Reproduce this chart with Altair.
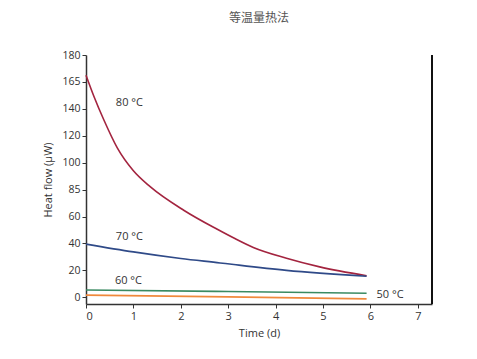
import altair as alt
import pandas as pd

# 80 °C curve
t80 = [0.0, 0.17, 0.38, 0.66, 1.0, 1.36, 2.07, 2.77, 3.12, 3.53, 4.23, 4.93, 5.92]
h80 = [165, 149, 131.5, 111, 94, 82, 64.5, 50.5, 44, 37, 29, 22.6, 16]
# 70 °C
t70 = [0.0, 1.0, 2.0, 2.83, 3.12, 4.23, 5.92]
h70 = [39.5, 33.7, 28.8, 25.5, 24.3, 20, 15.6]
# 60 °C
t60 = [0.0, 3.0, 5.92]
h60 = [5.4, 4.3, 3.0]
# 50 °C
t50 = [0.0, 3.0, 5.92]
h50 = [1.6, 0.3, -1.2]

series = ["80", "70", "60", "50"]
colors = ["#a3243f", "#2f4a88", "#3a8a62", "#f0893b"]

rows = []
for name, ts, hs in [("80", t80, h80), ("70", t70, h70), ("60", t60, h60), ("50", t50, h50)]:
    for t, h in zip(ts, hs):
        rows.append({"series": name, "t": t, "h": h})
df = pd.DataFrame(rows)

lab_text = ["80 °C", "70 °C", "60 °C", "50 °C"]
lab_t = [0.63, 0.63, 0.61, 6.13]
lab_h = [144, 45, 12, 1.5]
labels = pd.DataFrame({"text": lab_text, "t": lab_t, "h": lab_h})

x_ticks = [0, 1, 2, 3, 4, 5, 6, 7]
y_ticks = [0, 20, 40, 60, 80, 100, 120, 140, 160, 180]

font = "Open Sans"
xscale = alt.Scale(domain=[0, 7.3], nice=False, zero=False)
yscale = alt.Scale(domain=[-5, 180], nice=False, zero=False)

xaxis = alt.Axis(values=x_ticks, grid=False, domainColor="#333",
                 domainWidth=1.5, tickColor="#333", tickSize=4,
                 labelOverlap=False,
                 labelFontSize=11, titleFontSize=11, labelColor="#333",
                 titleColor="#333", labelFont=font, titleFont=font,
                 titleFontWeight="normal", titlePadding=6)
yaxis = alt.Axis(values=y_ticks, grid=False, domainColor="#333",
                 domainWidth=1.5, tickColor="#333", tickSize=4,
                 labelOverlap=False,
                 labelExpr="datum.value == 160 ? '165' : datum.value == 80 ? '85' : datum.label",
                 labelFontSize=10.5, titleFontSize=11, labelColor="#333",
                 titleColor="#333", labelFont=font, titleFont=font,
                 titleFontWeight="normal", titlePadding=8)

lines = alt.Chart(df).mark_line(strokeWidth=1.6, interpolate="monotone").encode(
    x=alt.X("t:Q", scale=xscale, title="Time (d)", axis=xaxis),
    y=alt.Y("h:Q", scale=yscale, title="Heat flow (µW)", axis=yaxis),
    color=alt.Color("series:N", scale=alt.Scale(domain=series, range=colors), legend=None),
    detail="series:N",
)

text = alt.Chart(labels).mark_text(align="left", baseline="middle", fontSize=11,
                                   font=font, color="#333").encode(
    x=alt.X("t:Q", scale=xscale, title="Time (d)", axis=xaxis),
    y=alt.Y("h:Q", scale=yscale, title="Heat flow (µW)", axis=yaxis),
    text="text:N")

border = alt.Chart(pd.DataFrame({"a": [0]})).mark_rule(color="#111", strokeWidth=2).encode(
    x=alt.value(346), y=alt.value(0), y2=alt.value(249))

chart = alt.layer(lines, text, border).properties(
    width=346, height=249,
    title=alt.TitleParams("等温量热法", fontSize=12, font="Noto Sans CJK SC",
                          color="#555", fontWeight="normal", offset=25, anchor="middle"),
    autosize=alt.AutoSizeParams(type="none"),
    padding={"left": 78, "top": 47, "right": 20, "bottom": 40},
).configure_view(stroke=None)

chart.save("out.html", embed_options={"renderer": "svg", "actions": False})
